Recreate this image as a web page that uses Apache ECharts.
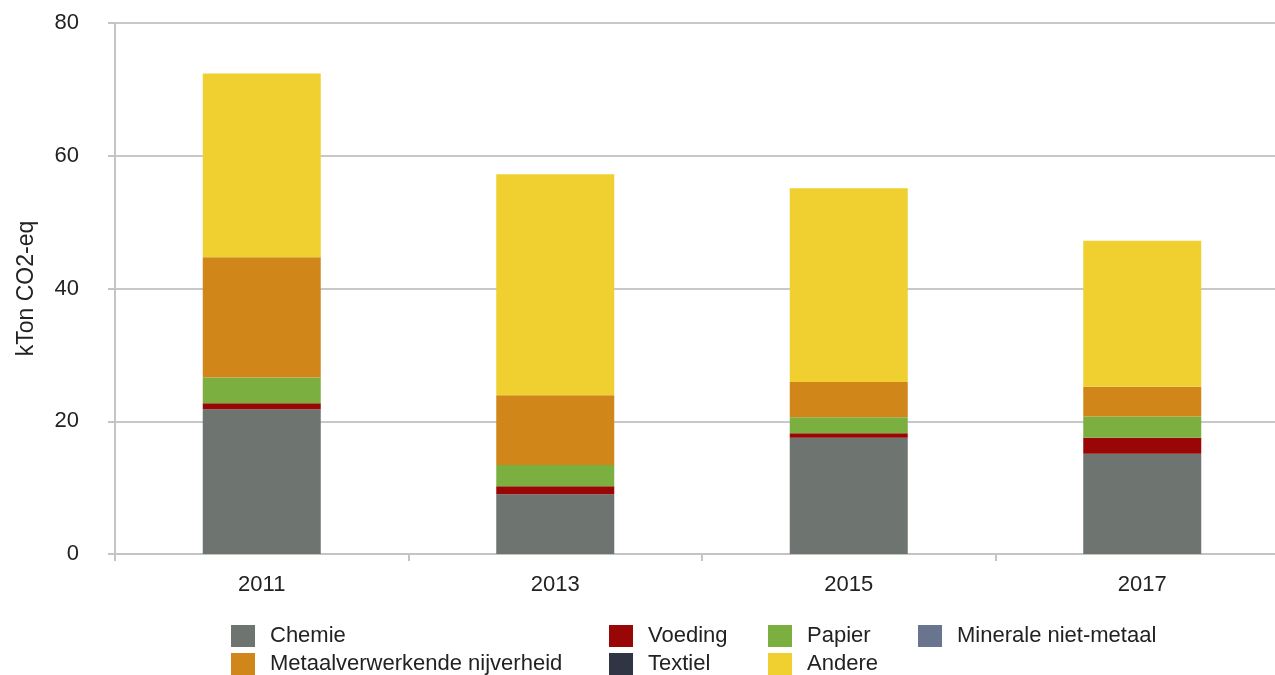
<!DOCTYPE html>
<html>
<head>
<meta charset="utf-8">
<style>
  html, body { margin: 0; padding: 0; background: #ffffff; overflow: hidden; }
  #chart { width: 1290px; height: 675px; }
</style>
<script src="https://cdn.jsdelivr.net/npm/echarts@6/dist/echarts.min.js"></script>
</head>
<body>
<div id="chart"></div>
<script>
// Emissions per sector, kTon CO2-eq
const years = ['2011', '2013', '2015', '2017'];
const chemie = [21.8, 9.0, 17.5, 15.1];
const voeding = [0.9, 1.2, 0.7, 2.4];
const textiel = [0, 0, 0, 0];
const papier = [3.9, 3.2, 2.4, 3.2];
const mineraleNietMetaal = [0, 0, 0, 0];
const metaalverwerkende = [18.1, 10.5, 5.3, 4.5];
const andere = [27.7, 33.3, 29.2, 22.0];
const yTicks = [0, 20, 40, 60, 80];

const FONT = '"Liberation Sans", Helvetica, Arial, sans-serif';
const TEXT = '#222222';

const seriesDefs = [
  { name: 'Chemie', data: chemie, color: '#6e7470' },
  { name: 'Voeding', data: voeding, color: '#990606' },
  { name: 'Textiel', data: textiel, color: '#2f3542' },
  { name: 'Papier', data: papier, color: '#7baf3f' },
  { name: 'Minerale niet-metaal', data: mineraleNietMetaal, color: '#69758f' },
  { name: 'Metaalverwerkende nijverheid', data: metaalverwerkende, color: '#d1861a' },
  { name: 'Andere', data: andere, color: '#f0d030' }
];

// Legend is laid out as four columns of up to two entries each
const legendBase = {
  orient: 'vertical',
  top: 625,
  padding: 0,
  itemWidth: 24,
  itemHeight: 22,
  itemGap: 6,
  icon: 'rect',
  selectedMode: false,
  textStyle: { fontFamily: FONT, fontSize: 22, color: TEXT, padding: [0, 0, 0, 10] }
};

const chart = echarts.init(document.getElementById('chart'), null, { renderer: 'canvas' });
chart.setOption({
  animation: false,
  backgroundColor: '#ffffff',
  grid: { left: 115, top: 23, right: 1, bottom: 121, containLabel: false },
  legend: [
    Object.assign({}, legendBase, { left: 231, data: ['Chemie', 'Metaalverwerkende nijverheid'] }),
    Object.assign({}, legendBase, { left: 609, data: ['Voeding', 'Textiel'] }),
    Object.assign({}, legendBase, { left: 768, data: ['Papier', 'Andere'] }),
    Object.assign({}, legendBase, { left: 918, data: ['Minerale niet-metaal'] })
  ],
  xAxis: {
    type: 'category',
    data: years,
    axisLine: { show: true, lineStyle: { color: '#c4c4c4', width: 2 } },
    axisTick: { show: true, length: 7, lineStyle: { color: '#c4c4c4', width: 2 } },
    axisLabel: { fontFamily: FONT, fontSize: 22, color: TEXT, margin: 20 },
    splitLine: { show: false }
  },
  yAxis: {
    type: 'value',
    min: yTicks[0],
    max: yTicks[yTicks.length - 1],
    interval: 20,
    name: 'kTon CO2-eq',
    nameLocation: 'middle',
    nameGap: 77,
    nameTextStyle: { fontFamily: FONT, fontSize: 23, color: TEXT },
    axisLine: { show: true, lineStyle: { color: '#c4c4c4', width: 2 } },
    axisTick: { show: true, length: 7, lineStyle: { color: '#c4c4c4', width: 2 } },
    axisLabel: { fontFamily: FONT, fontSize: 22, color: TEXT, margin: 36 },
    splitLine: { show: true, lineStyle: { color: '#c8c8c8', width: 2 } }
  },
  series: seriesDefs.map(s => ({
    name: s.name,
    type: 'bar',
    stack: 'total',
    data: s.data,
    barWidth: 118,
    itemStyle: { color: s.color },
    emphasis: { disabled: true }
  }))
});
</script>
</body>
</html>
